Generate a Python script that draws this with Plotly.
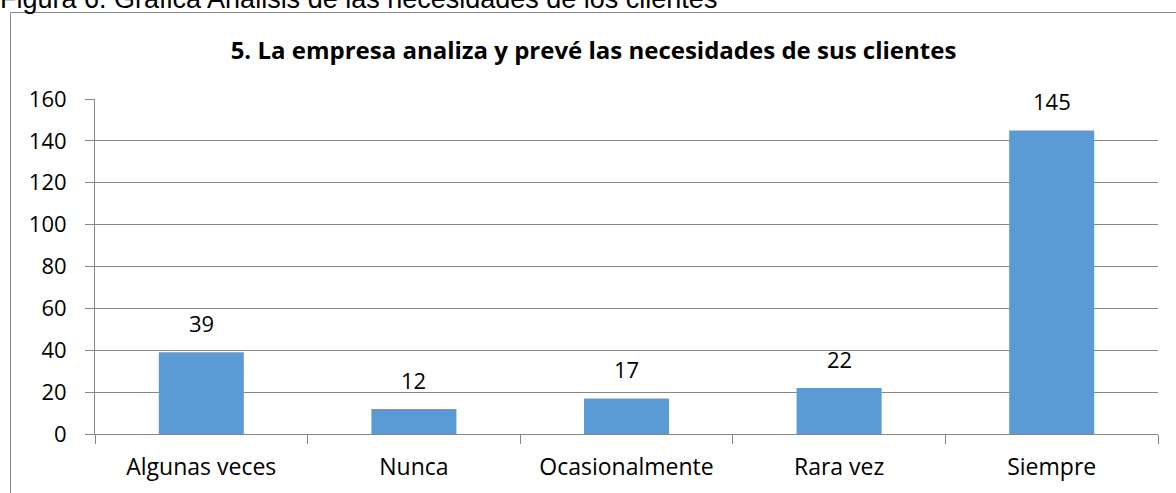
import plotly.graph_objects as go

categories = ["Algunas veces", "Nunca", "Ocasionalmente", "Rara vez", "Siempre"]
values = [39, 12, 17, 22, 145]
y_ticks = [0, 20, 40, 60, 80, 100, 120, 140, 160]

title_text = "5. La empresa analiza y prevé las necesidades de sus clientes"
caption_text = "Figura 6. Gráfica Análisis de las necesidades de los clientes"

W, H = 1176, 493
L, R, T, B = 95, 18, 99, 59
pw, ph = W - L - R, H - T - B

FONT = "Open Sans"
GRAY = "#868686"

fig = go.Figure()
fig.add_trace(go.Bar(
    x=categories, y=values,
    marker=dict(color="#5B9BD5", line=dict(width=0)),
    hoverinfo="x+y",
))

for c, v in zip(categories, values):
    fig.add_annotation(x=c, y=v, text=str(v), showarrow=False,
                       yanchor="bottom", yshift=12,
                       font=dict(family=FONT, size=22, color="#000000"))

def px_x(p):
    return (p - L) / pw

def px_y(p):
    return (H - B - p) / ph

# outer chart frame
fig.add_shape(type="rect", xref="paper", yref="paper",
              x0=px_x(10.5), x1=px_x(1185), y0=px_y(505), y1=px_y(12.5),
              line=dict(color="#8a8a8a", width=1), fillcolor="rgba(0,0,0,0)",
              layer="below")

# cut-off document caption at the top
fig.add_annotation(xref="paper", yref="paper", x=px_x(-2), y=px_y(16),
                   xanchor="left", yanchor="bottom", showarrow=False,
                   text=caption_text,
                   font=dict(family="Liberation Sans", size=27, color="#000000"))

fig.update_layout(
    width=W, height=H,
    margin=dict(l=L, r=R, t=T, b=B, autoexpand=False),
    paper_bgcolor="white", plot_bgcolor="white",
    bargap=0.6,
    showlegend=False,
    title=dict(text="<b>" + title_text + "</b>", xref="container", yref="container",
               x=593.5 / W, xanchor="center", y=1 - 51 / H, yanchor="middle",
               font=dict(family=FONT, size=24, color="#000000")),
    xaxis=dict(type="category", showline=True, linecolor=GRAY, linewidth=1,
               ticks="outside", tickson="boundaries", ticklen=9, tickcolor=GRAY,
               showgrid=False, tickfont=dict(family=FONT, size=23, color="#000000"),
               ticklabelstandoff=12),
    yaxis=dict(range=[0, 160], tickvals=y_ticks, showline=True, linecolor=GRAY,
               linewidth=1, ticks="outside", ticklen=9, tickcolor=GRAY,
               showgrid=True, gridcolor=GRAY, gridwidth=1, zeroline=False,
               tickfont=dict(family=FONT, size=22, color="#000000"),
               ticklabelstandoff=14),
)

fig.write_html("out.html", config={"displayModeBar": False},
               post_script="document.body.style.margin='0';document.body.style.overflow='hidden';")
